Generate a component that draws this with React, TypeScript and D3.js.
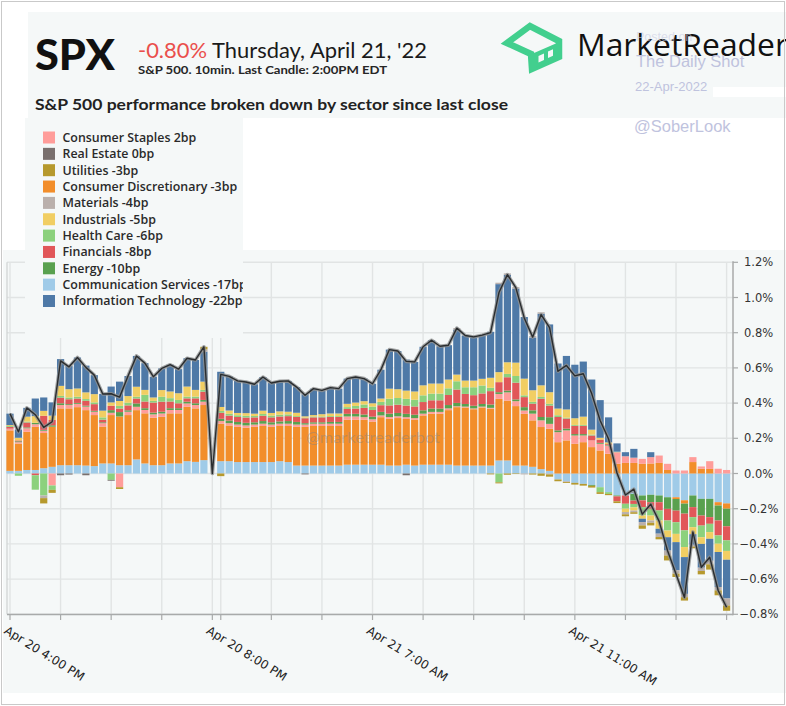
import React from "react";
import * as d3 from "d3";

const W = 786;
const H = 706;

// 10-minute candles: index 0 = Apr 20 4:00 PM ... 24 = Apr 20 8:00 PM, 25 = Apr 21 4:00 AM ... 85 = Apr 21 2:00 PM
const xTickIndex = [0, 6, 12, 18, 24, 25, 31, 37, 43, 49, 55, 61, 67, 73, 79, 85];
const xTickLabelIndex = [0, 24, 43, 67];
const xTickLabels = ["Apr 20 4:00 PM", "Apr 20 8:00 PM", "Apr 21 7:00 AM", "Apr 21 11:00 AM"];
const yTicks = [-0.8, -0.6, -0.4, -0.2, 0, 0.2, 0.4, 0.6, 0.8, 1.0, 1.2];

// sector contributions in basis points, alphabetical stacking order
const communicationServices = [
  1.5, 1.5, 2, 2, 3, 3.8, 4.7, 4.7, 4.7, 4.5, 4.2, 5.7, 5.7, 4.7, 4.7, 8, 5.7, 4.7, 4.7, 5.7, 5.7, 7, 6.6, 7.6,
  0,
  7, 7, 6.5, 6.5, 6.5, 6.5, 6.5, 7, 6.5,
  4.5, 4.5, 4.5, 4.5, 4.5, 4.5, 5, 5, 5, 5,
  5, 4.5, 4.5, 5, 4.5, 5, 5, 5, 5, 4.5,
  4.5, 4.5, 4.5, 4.5,
  7.4, 7.4, 4.5, 4.5, 3.8, 2.5, 1.5,
  -3.4, -4.4, -5.3, -5.9, -6.5, -7.8, -10.6, -12.5,
  -12.5, -11.6, -12.5, -12.1, -12.5, -13.5, -13.5, -15.2, -12.5, -14.4, -14.4, -16.3, -17,
];
const consumerDiscretionary = [
  23, 15.5, 21.7, 24.5, 20, 22.8, 32.3, 32.3, 33, 31.5, 29, 21, 27.5, 27.7, 28.5, 28, 28.5, 27, 27.5, 28.5, 28.5, 30.9, 30.4, 31.3,
  0,
  21.3, 20.3, 20, 19.5, 20, 20.5, 20, 20, 20.5,
  22, 22, 22.5, 22.5, 22.5, 22.5, 25.5, 25.5, 25.5, 24.5,
  27, 26.6, 27, 26, 26, 28, 29, 29, 31, 33.2,
  33, 32, 33, 32.3,
  35, 34, 33.8, 29.4, 26.4, 23.9, 23.9,
  17.8, 18.8, 16.9, 17.8, 15, 13.1, 11.2, 5.5,
  6, 6, 5.5, 5.7, 6, 2, -1, -1.9, 6.5, 2.7, 2.6, -1.9, -3,
];
const consumerStaples = [
  1, 0.8, 2, 1.5, 1.3, -6.8, 1.9, 1.9, 1.9, 2, 1.9, 1.9, 1.3, -7.8, 1.9, 1.9, 1.9, 1.9, 1.9, 1.9, 1.9, 1.9, 1.9, 1.9,
  0,
  1.5, 1.3, 1.3, 1.3, 1.3, 1.3, 1.3, 1.3, 1.3,
  1.3, 1.3, 1.3, 1.3, 1.3, 1.3, 1.9, 1.9, 1.5, 1.3,
  1, 1, 1, 1, 1, 1, 1, 1, 1, 0.5,
  0.5, 0.5, 0.5, 0.5,
  2.8, 4.7, 2.8, 1.9, 3.8, 3.8, 2.8,
  5.7, 5.7, 4.7, 3.8, 3.8, 3.8, 4.7, 6.6,
  3.8, 3, 2.8, 3.6, 4.2, 3.5, 1.7, 1.7, 2.8, 1.3, 4.4, 2.7, 2,
];
const energy = [
  0, 0.5, 0.5, 0.8, 0.5, 0.8, 1, 0.5, 0.5, 0.5, 0.5, 0.5, 1.5, 2.5, 0.8, 1.9, 1, 1, 1, 1, 1, 1, 1, 1,
  0,
  1.3, 1.5, 1.5, 1.5, 1.3, 1.5, 1.3, 1.3, 1.5,
  1.5, 0.8, 0.8, 0.8, 1, 1, 1.5, 1.5, 1.5, 1.5,
  2, 1.9, 1.9, 1.9, 1.9, 1.9, 1.9, 1.9, 1.9, 1.9,
  1.5, 1.5, 1.5, 1.9,
  1, 1, 1, 1.9, 1.9, 1.9, 3.8,
  1, 1, 0.8, 0.8, -0.5, 0.5, 0.3, -0.5,
  0, -3.8, -2.8, -4.2, -3.8, -6.6, -6.6, -5.7, -6.6, -9.5, -10.4, -8.5, -10,
];
const financials = [
  1, 0.5, 2.8, -1, 8, 3, 3.2, 2.8, 2.5, 2.8, 3.8, 1.5, 2.5, 2, 2.8, 2.8, 3.8, 5.7, 5.7, 3.8, 2.8, 1.9, 2.8, 4.7,
  0,
  3.4, 2.8, 2.8, 3, 2.8, 3, 2.8, 2.8, 2.8,
  2.8, 2.8, 2.8, 2.8, 2.8, 2.8, 2.8, 3, 3.8, 3.8,
  3.8, 4.7, 4.7, 4.7, 4.7, 4.7, 4.7, 4.7, 5.7, 7.6,
  5.7, 6, 6, 7.6,
  5.7, 7.6, 9.5, 5.7, 3.8, 10.4, 6.6,
  7.6, 5.7, 4.7, 4.7, 2.8, 1.9, 0.5, -2.8,
  -4.7, -1.9, -3.8, -3.8, -4.7, -6.6, -6.6, -9.5, -5.7, -5.7, -3.8, -8.5, -8,
];
const healthCare = [
  0.5, -1.3, 0.5, -8.2, -12.5, -2.5, 1, 1, 1, 1, 1, 1.3, -3.6, 1.5, 1.5, 1, 3.8, 1, 2.8, 1.9, 1.9, 1, 1, 1,
  0,
  1, 1, 1, 1, 0.8, 1, 1, 1, 1,
  0.5, 0.3, 0.5, 0.5, 0.5, 0.5, 1, 1.5, 1.9, 1.9,
  1.9, 3.8, 3.8, 3.8, 3.8, 3.8, 3.8, 3.8, 3.8, 4.7,
  3.8, 4.5, 4.5, 1.9,
  -5, 1.9, 3.8, 1, 1, 1, 1,
  1, 0.5, 0.5, 0.5, 0.5, -2.8, -1, 0.3,
  -2.8, -1.9, -4.7, -3.8, -5.7, -5.7, -6.6, -9.5, -5.7, -6.6, -4.7, -4.7, -6,
];
const industrials = [
  0.5, 1.5, 2.8, 3.8, 2.8, 2.5, 5.7, 4.7, 4.7, 3.8, 4.7, 3.8, 1.9, 2.8, 3.8, 5.7, 2.8, 1.9, 3.8, 3.8, 3.8, 5.7, 3.8, 4.7,
  0,
  2.3, 1.9, 1.3, 1.5, 1.3, 1.9, 1.5, 1.9, 1.5,
  1.9, 0.8, 0.8, 1.3, 1.5, 1.5, 1.9, 1.9, 1.9, 1.9,
  1.9, 5.7, 5, 4.7, 4.7, 5.7, 5.7, 5.7, 5, 3.8,
  3.8, 3.8, 3.8, 5.7,
  5.7, 6.6, 7.6, 9.5, 6.6, 6.6, 6.6,
  3.8, 4.7, 3.8, 4.7, 2.8, 1, 1, 0,
  -1.9, -1.9, -1.9, -2.8, -4.7, -3.8, -4.7, -5.7, -4, -3.8, -3.8, -4.7, -5,
];
const informationTechnology = [
  6.5, 4.7, 5, 10, 7.6, 7.5, 15.2, 13.3, 17.6, 15.2, 10.8, 9.5, 9, 11, 11.4, 17.5, 15.2, 11.8, 12.3, 15.2, 13.7, 16.1, 17, 17,
  0,
  20, 19.4, 18.2, 17.7, 16.7, 19.1, 17, 17.1, 17.5,
  14.6, 12.5, 15, 13.5, 14.7, 14.1, 14.3, 14.5, 12.8, 11.1,
  16.4, 22.2, 21.7, 17.6, 16.8, 21.9, 24.6, 21.2, 19.5, 25.6,
  25.6, 24.8, 24.8, 26.1,
  50, 49.7, 42.1, 35, 30, 40.7, 38.5,
  25.6, 30.4, 30.4, 31.3, 28.5, 21.4, 14.2, 4.7,
  2.3, 5, -1.9, 2.8, -2.8, -7.6, -16, -20.9, -6, -13.5, -12.5, -19.9, -22,
];
const materials = [
  0, 0, 0, 0, -1.5, 0, 0, 0, 0, 0,
  0, 0, 0, 0, 0, 0, 0, 0, 0, 0,
  0, 0, 0, 1.3, 0, 0, 0, 0, 0, 0,
  0, 0, 0, 0, 0, 0, 0, 0, 0, 0,
  0, 0, 0, 0, 0, 0, 0, 0, 0, 0,
  0, 0, 0, 0.8, 0, 0, 0, 0, 0.8, 0.8,
  0.8, -0.5, 0.8, 0.8, -0.5, 0, -0.5, 0, 0, 0,
  0, 0, 0, -1.3, -0.9, -1.9, -1.3, -1.9, -2.8, -1.9,
  -1.9, -1, -1.9, -2, -1.9, -4,
];
const realEstate = [
  0, 0, 0, 0, 0, 0, -1, -0.6, 0, -1,
  0, 0, -0.5, 0, 0, 0, 0, 0, 0, 0,
  0, 0, 0, 0, 0, 0, 0, 0, 0, 0,
  0, 0, 0, 0, 0, -0.5, 0, 0, 0, 0,
  0, 0, 0, 0, 0, 0, 0, -1, 0, 0,
  0, 0, 0, 0, 0, 0, 0, 0, 0, 0,
  0, 0, 0, 0, 0, 0, 0, 0, 0, 0,
  0, 0, 0, 0, 0, 0, 0, 0, 0, 0,
  0, 0, 0, 0, 0, 0,
];
const utilities = [
  0, 0, 0, 0, -3, -1.7, 0, 0, 0, 0,
  0, 0, 0, -1, 0, 0, 0, 0, 0, 0,
  0, 0, 0, 1.5, 0, -1.5, 0, 0, 0, 0,
  0, 0, 0, 0, 0, 0, 0, 0, 0, 0,
  0, 0, 0, 0, 0, 0, 0, 0, 0, 0,
  0, 0, 0, 0, 0, 0, 0, -0.5, -0.6, -0.7,
  -0.3, 0, -0.6, -1.3, -1.3, -1, -0.5, -1, -1, -1,
  -1, -0.7, -1, -1.1, -0.9, -1.9, -1.5, -1.3, -2.8, -1.9,
  -1.9, -1, -1.9, -3, -2.8, -3,
];

const sectorNames = [
  "Communication Services",
  "Consumer Discretionary",
  "Consumer Staples",
  "Energy",
  "Financials",
  "Health Care",
  "Industrials",
  "Information Technology",
  "Materials",
  "Real Estate",
  "Utilities",
];
const sectorValues = [
  communicationServices,
  consumerDiscretionary,
  consumerStaples,
  energy,
  financials,
  healthCare,
  industrials,
  informationTechnology,
  materials,
  realEstate,
  utilities,
];
const sectorColors = [
  "#a0cbe8",
  "#f28e2b",
  "#ff9d9a",
  "#59a14f",
  "#e15759",
  "#8cd17d",
  "#f1ce63",
  "#4e79a7",
  "#bab0ac",
  "#79706e",
  "#b6992d",
];

// legend (sorted by last-candle contribution)
const legendNames = [
  "Consumer Staples",
  "Real Estate",
  "Utilities",
  "Consumer Discretionary",
  "Materials",
  "Industrials",
  "Health Care",
  "Financials",
  "Energy",
  "Communication Services",
  "Information Technology",
];
const legendBp = [2, 0, -3, -3, -4, -5, -6, -8, -10, -17, -22];

const BG = "#f5f8f8";
const SANS = "Lato, 'Open Sans', sans-serif";
const LEG = "'Open Sans', Lato, sans-serif";
const AXF = "'DejaVu Sans', Verdana, sans-serif";
const ARIAL = "'Liberation Sans', Arial, sans-serif";

export default function App() {
  const n = communicationServices.length;
  const rows = d3.range(n).map((i) => {
    const r: Record<string, number> = {};
    sectorNames.forEach((s, k) => (r[s] = sectorValues[k][i] / 100));
    return r;
  });
  const stack = d3.stack<Record<string, number>>().keys(sectorNames).offset(d3.stackOffsetDiverging);
  const series = stack(rows);
  const net = rows.map((r) => d3.sum(sectorNames, (s) => r[s]));

  const x = d3.scaleLinear().domain([0, n - 1]).range([10, 726.6]);
  const y = d3.scaleLinear().domain([-0.8, 1.2]).range([614.3, 262.3]);
  const bw = 7.2;
  const plotL = 7;
  const plotR = 733;

  const line = d3
    .line<number>()
    .x((_, i) => x(i))
    .y((d) => y(d));
  const linePath = line(net) || "";

  const fmtY = (v: number) => {
    const s = Math.abs(v).toFixed(1) + "%";
    return v < -1e-9 ? "\u2212" + s : s;
  };

  return (
    <div style={{ position: "absolute", left: 0, top: 0 }}>
      <svg width={W} height={H} style={{ display: "block" }}>
        <defs>
          <clipPath id="legclip">
            <rect x={25} y={118} width={218} height={220} />
          </clipPath>
        </defs>
        <rect x={0} y={0} width={W} height={H} fill="#ffffff" />
        {/* panels */}
        <rect x={28} y={12} width={W - 28} height={106} fill={BG} />
        <rect x={3} y={250} width={W - 3} height={443} fill={BG} />

        {/* gridlines */}
        {yTicks.map((t) => (
          <line key={"gy" + t} x1={plotL} x2={plotR} y1={y(t)} y2={y(t)} stroke="#e1e4e4" strokeWidth={1.4} />
        ))}
        {xTickIndex.map((i) => (
          <line key={"gx" + i} x1={x(i)} x2={x(i)} y1={y(1.2)} y2={y(-0.8)} stroke="#e1e4e4" strokeWidth={1.4} />
        ))}

        {/* legend panel */}
        <rect x={25} y={118} width={218} height={220} fill={BG} />

        <line x1={plotL} x2={plotL} y1={y(1.2)} y2={y(-0.8)} stroke="#cfd2d2" strokeWidth={1.2} />

        {/* stacked bars */}
        {series.map((s, k) => (
          <g key={sectorNames[k]} fill={sectorColors[k]}>
            {s.map((d, i) => {
              const h = Math.abs(y(d[0]) - y(d[1]));
              if (h < 0.05) return null;
              return (
                <rect
                  key={i}
                  x={x(i) - bw / 2}
                  width={bw}
                  y={Math.min(y(d[0]), y(d[1]))}
                  height={h}
                />
              );
            })}
          </g>
        ))}

        {/* watermark */}
        <text x={306} y={443} fontFamily={SANS} fontSize={14.5} fill="rgba(130,130,130,0.42)" textLength={134} lengthAdjust="spacingAndGlyphs">
          @marketreaderbot
        </text>

        {/* net line */}
        <path d={linePath} fill="none" stroke="#8f9090" strokeWidth={3.6} strokeOpacity={0.8} strokeLinejoin="round" />
        <path d={linePath} fill="none" stroke="#2a2d2f" strokeWidth={1.4} strokeLinejoin="round" />

        {/* right axis */}
        <line x1={plotR} x2={plotR} y1={y(1.2) - 1} y2={y(-0.8) + 1} stroke="#a8aaaa" strokeWidth={1.5} />
        {yTicks.map((t) => (
          <g key={"yt" + t}>
            <line x1={plotR} x2={plotR + 5} y1={y(t)} y2={y(t)} stroke="#a8aaaa" strokeWidth={1.2} />
            <text
              x={t < -1e-9 ? 739.5 : 744}
              y={y(t)}
              dy="0.36em"
              fontFamily={AXF}
              fontSize={11.5}
              fill="#333"
            >
              {fmtY(t)}
            </text>
          </g>
        ))}

        {/* bottom axis */}
        <line x1={plotL} x2={plotR} y1={614.5} y2={614.5} stroke="#a8aaaa" strokeWidth={1.5} />
        {xTickIndex.map((i) => (
          <line key={"xt" + i} x1={x(i)} x2={x(i)} y1={614} y2={620} stroke="#a8aaaa" strokeWidth={1.2} />
        ))}
        {xTickLabelIndex.map((i, k) => (
          <text
            key={"xl" + i}
            transform={`translate(${x(i) - 2},${625}) rotate(32)`}
            dy="0.75em"
            fontFamily={AXF}
            fontSize={12}
            fill="#222"
          >
            {xTickLabels[k]}
          </text>
        ))}

        {/* legend */}
        <g clipPath="url(#legclip)">
          {legendNames.map((name, k) => {
            const cy = 137.5 + k * 16.35;
            const col = sectorColors[sectorNames.indexOf(name)];
            return (
              <g key={name}>
                <rect x={43} y={cy - 6} width={12} height={12} fill={col} />
                <text x={62.5} y={cy} dy="0.36em" fontFamily={LEG} fontWeight={600} fontSize={12.4} fill="#2a2a2a">
                  {name} {legendBp[k]}bp
                </text>
              </g>
            );
          })}
        </g>

        {/* header */}
        <text x={35} y={70} fontFamily={SANS} fontWeight={900} fontSize={42} fill="#111" textLength={80} lengthAdjust="spacingAndGlyphs">
          SPX
        </text>
        <text x={138} y={58} fontFamily={SANS} fontSize={20.5} fill="#1a1a1a" textLength={289} lengthAdjust="spacingAndGlyphs">
          <tspan fill="#ea4f4c">-0.80%</tspan> Thursday, April 21, '22
        </text>
        <text x={138} y={74} fontFamily={SANS} fontWeight={700} fontSize={11.5} fill="#262626" textLength={249} lengthAdjust="spacingAndGlyphs">
          S&amp;P 500. 10min. Last Candle: 2:00PM EDT
        </text>
        <text x={35} y={110} fontFamily={SANS} fontWeight={700} fontSize={15.5} fill="#222" textLength={473} lengthAdjust="spacingAndGlyphs">
          S&amp;P 500 performance broken down by sector since last close
        </text>

        {/* logo */}
        <path
          d="M531,54 L507,43 L530,26 L559,41 L559,57 L532,69 Z"
          fill="none"
          stroke="#42cf8e"
          strokeWidth={6.5}
          strokeLinejoin="miter"
        />
        <g fill="#42cf8e">
          <path d="M534,53 L557,43 L557,58 L534,68 Z" />
        </g>
        <g fill={BG}>
          <path d="M538.5,56 L544,53.5 L544,60 L538.5,62.5 Z" />
          <path d="M548,51.5 L553,49.3 L553,55.8 L548,58 Z" />
        </g>
        <text x={577} y={56} fontFamily={"'Open Sans', Lato, sans-serif"} fontWeight={500} fontSize={31} fill="#111" textLength={211} lengthAdjust="spacingAndGlyphs">
          MarketReader
        </text>

        {/* posted-on watermark */}
        <text x={636} y={41} fontFamily={ARIAL} fontSize={12.5} fill="#c9cce3" fillOpacity={0.6}>
          Posted on
        </text>
        <text x={636} y={67} fontFamily={ARIAL} fontSize={16.5} fill="#bfc3de">
          The Daily Shot
        </text>
        <rect x={713} y={87} width={73} height={10} fill="#ffffff" />
        <text x={635} y={91} fontFamily={ARIAL} fontSize={13} fill="#bfc3de">
          22-Apr-2022
        </text>
        <text x={634} y={132} fontFamily={ARIAL} fontSize={16.5} fill="#bfc3de">
          @SoberLook
        </text>

        {/* border */}
        <rect x={1.5} y={1.5} width={W - 3} height={H - 3} fill="none" stroke="#c9c9c9" strokeWidth={1} />
      </svg>
    </div>
  );
}
